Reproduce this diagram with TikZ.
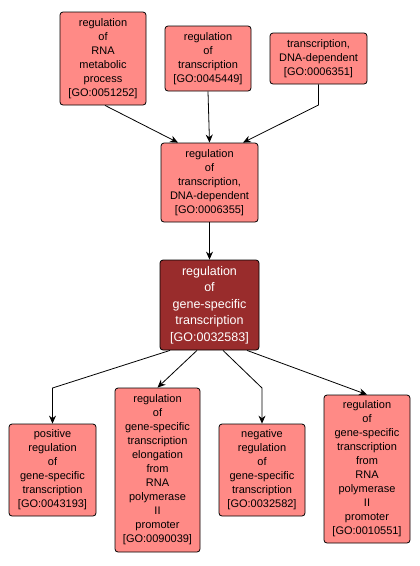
\documentclass[tikz,border=0pt]{standalone}
\usepackage{fontspec}
\setmainfont{Liberation Sans}
\usetikzlibrary{arrows.meta,calc}
\definecolor{lightred}{RGB}{255,138,134}
\definecolor{darkred}{RGB}{153,44,44}
\tikzset{
  term/.style={draw=black, line width=0.8pt, rounded corners=3pt, fill=lightred,
    align=center, inner sep=0pt, font=\fontsize{11}{14}\selectfont},
  focus/.style={term, fill=darkred, text=white, font=\fontsize{12.5}{16.5}\selectfont},
  edge/.style={draw=black, line width=0.8pt, -{Stealth[length=8pt,width=7pt]}}
}
\begin{document}
\begin{tikzpicture}[x=1pt,y=-1pt]
\useasboundingbox (0,0) rectangle (420,566);
\node[term, minimum width=86pt, minimum height=93pt] (A) at (103,58.5) {regulation\\of\\RNA\\metabolic\\process\\{[}GO:0051252{]}};
\node[term, minimum width=86pt, minimum height=65pt] (B) at (208,58.5) {regulation\\of\\transcription\\{[}GO:0045449{]}};
\node[term, minimum width=97pt, minimum height=51pt] (C) at (318.5,58.5) {transcription,\\DNA-dependent\\{[}GO:0006351{]}};
\node[term, minimum width=97pt, minimum height=79pt] (D) at (209.5,182.5) {regulation\\of\\transcription,\\DNA-dependent\\{[}GO:0006355{]}};
\node[focus, minimum width=99pt, minimum height=90pt] (E) at (209.5,305) {regulation\\of\\gene-specific\\transcription\\{[}GO:0032583{]}};
\node[term, minimum width=87pt, minimum height=92pt] (F) at (52.5,470) {positive\\regulation\\of\\gene-specific\\transcription\\{[}GO:0043193{]}};
\node[term, minimum width=85pt, minimum height=164pt] (G) at (157.5,470) {regulation\\of\\gene-specific\\transcription\\elongation\\from\\RNA\\polymerase\\II\\promoter\\{[}GO:0090039{]}};
\node[term, minimum width=86pt, minimum height=92pt] (H) at (262,470) {negative\\regulation\\of\\gene-specific\\transcription\\{[}GO:0032582{]}};
\node[term, minimum width=86pt, minimum height=148pt] (I) at (367,469) {regulation\\of\\gene-specific\\transcription\\from\\RNA\\polymerase\\II\\promoter\\{[}GO:0010551{]}};
\coordinate (c1) at (318.5,105);
\coordinate (f1) at (52.5,388);
\coordinate (h1) at (262,388);
\draw[edge] ([xshift=2pt]A.south) -- ([xshift=-31.5pt]D.north);
\draw[edge] (B.south) -- (D.north);
\draw[edge] (C.south) -- (c1) -- ([xshift=33.5pt]D.north);
\draw[edge] (D.south) -- (E.north);
\draw[edge] ([xshift=-39.5pt]E.south) -- (f1) -- (F.north);
\draw[edge] ([xshift=-12.5pt]E.south) -- (G.north);
\draw[edge] ([xshift=13.5pt]E.south) -- (h1) -- (H.north);
\draw[edge] ([xshift=37.5pt]E.south) -- (I.north);
\end{tikzpicture}
\end{document}
